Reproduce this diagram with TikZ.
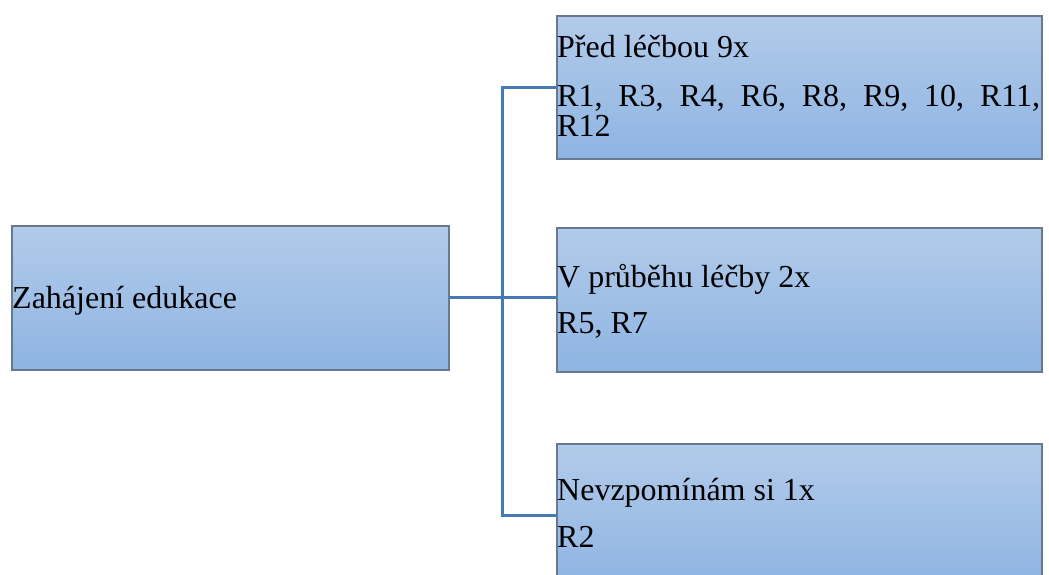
\documentclass[tikz,border=0pt]{standalone}
\usepackage{fontspec}
\setmainfont{Liberation Serif}
\definecolor{boxtop}{RGB}{178,203,234}
\definecolor{boxbot}{RGB}{142,180,226}
\definecolor{boxline}{RGB}{105,120,145}
\definecolor{linkblue}{RGB}{70,122,182}
\begin{document}
\begin{tikzpicture}[x=1pt,y=-1pt,
  box/.style={rectangle, draw=boxline, line width=1.8pt,
    top color=boxtop, bottom color=boxbot, inner sep=0pt,
    anchor=north west, minimum height=143pt},
  link/.style={draw=linkblue, line width=3pt},
  lbl/.style={anchor=base west, inner sep=0pt,
    font=\rmfamily\fontsize{32}{30}\selectfont}]
\useasboundingbox (0,0) rectangle (1049,575);

% boxes
\node[box, minimum width=437pt, minimum height=144pt] (root) at (11,225) {};
\node[box, minimum width=485pt] (before) at (556,15) {};
\node[box, minimum width=485pt, minimum height=144pt] (during) at (556,227) {};
\node[box, minimum width=485pt] (forgot) at (556,443) {};

% connectors
\coordinate (spine) at (502,0);
\draw[link] (root.east) -- (root.east -| during.west);
\draw[link] (before.west) -- (before.west -| spine)
  -- (forgot.west -| spine) -- (forgot.west);

% texts
\node[lbl] (t0) at (12,308) {Zahájení edukace};
\node[lbl] (t1) at (557,58) {Před léčbou 9x};
\node[lbl] (t1a) at (557,107) {\makebox[483pt][s]{R1, R3, R4, R6, R8, R9, 10, R11,}};
\node[lbl] (t1b) at (557,137) {R12};
\node[lbl] (t2) at (557,287) {V průběhu léčby 2x};
\node[lbl] (t2a) at (557,333) {R5, R7};
\node[lbl] (t3) at (557,500) {Nevzpomínám si 1x};
\node[lbl] (t3a) at (557,547) {R2};
\end{tikzpicture}
\end{document}
